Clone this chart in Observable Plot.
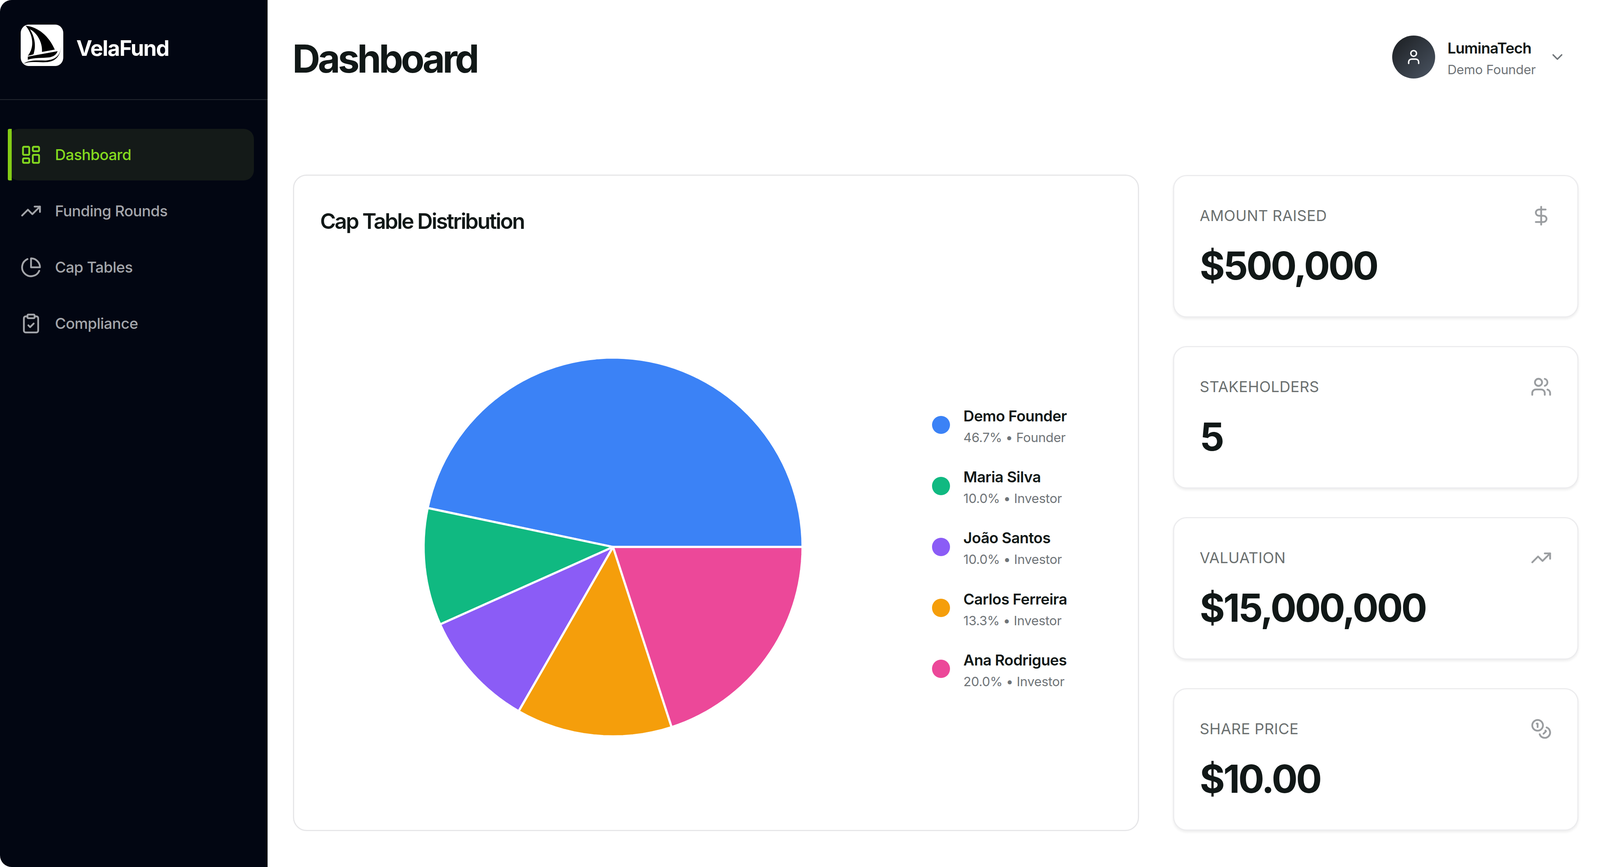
<!DOCTYPE html>
<html>
<head>
<meta charset="utf-8">
<script src="https://cdn.jsdelivr.net/npm/d3@7"></script>
<script src="https://cdn.jsdelivr.net/npm/@observablehq/plot@0.6"></script>
<style>
  html, body { margin: 0; background: #fff; }
  body { position: relative; height: 2220px; overflow: hidden; font-family: Inter, sans-serif; color: #111817; }
  .abs { position: absolute; box-sizing: border-box; }
  .t { position: absolute; white-space: nowrap; line-height: 1; transform: translateY(-50%); }
  .card { background: #fff; border: 3px solid #ececee; border-radius: 35px; }
  .main { border-color: #e6e6e8; }
  .stat { box-shadow: 0 4px 6px rgba(0,0,0,.07); }
  .brand { font-size: 57.5rem; font-weight: 700; color: #fff; letter-spacing: calc((-.002 + var(--d)) * 1em); }
  .h1 { font-size: 103.5rem; font-weight: 700; letter-spacing: calc((-.033 + var(--d)) * 1em); }
  .h2 { font-size: 57.5rem; font-weight: 600; letter-spacing: calc((-.026 + var(--d)) * 1em); }
  .nav { font-size: 40.3rem; font-weight: 500; letter-spacing: calc((.012 + var(--d)) * 1em); }
  .uname { font-size: 40.3rem; font-weight: 600; letter-spacing: calc(.004em + var(--d) * 1em); }
  .usub { font-size: 34.5rem; color: #6f7478; letter-spacing: calc((.02 + var(--d)) * 1em); }
  .slabel { font-size: 40.3rem; color: #6b7070; letter-spacing: calc((.037 + var(--d)) * 1em); }
  .svalue { font-size: 103.5rem; font-weight: 700; letter-spacing: calc((-.015 + var(--d)) * 1em); }
  .lname { font-size: 40.3rem; font-weight: 600; letter-spacing: calc((.012 + var(--d)) * 1em); }
  .lsub { font-size: 34.5rem; color: #6f7478; letter-spacing: calc((.019 + var(--d)) * 1em); }
  .ico { position: absolute; fill: none; stroke-linecap: round; stroke-linejoin: round; stroke-width: 2; }
</style>
</head>
<body>
<script>
// nav
const navLabels = ["Dashboard", "Funding Rounds", "Cap Tables", "Compliance"]
const navIcons = ["dashboard", "trend", "pie", "clipboard"]
// pie
const holders = ["Demo Founder", "Maria Silva", "João Santos", "Carlos Ferreira", "Ana Rodrigues"]
const shares = [46.7, 10.0, 10.0, 13.3, 20.0]
const roles = ["Founder", "Investor", "Investor", "Investor", "Investor"]
const colors = ["#3b82f6", "#10b981", "#8b5cf6", "#f59e0b", "#ec4899"]
// cards
const statLabels = ["AMOUNT RAISED", "STAKEHOLDERS", "VALUATION", "SHARE PRICE"]
const statValues = ["$500,000", "5", "$15,000,000", "$10.00"]
const statIcons = ["dollar", "users", "trend", "coins"]

const icons = {
  dashboard: '<rect x="3" y="3" width="7" height="9" rx="1"/><rect x="14" y="3" width="7" height="5" rx="1"/><rect x="14" y="12" width="7" height="9" rx="1"/><rect x="3" y="16" width="7" height="5" rx="1"/>',
  trend: '<polyline points="22 7 13.5 15.5 8.5 10.5 2 17"/><polyline points="16 7 22 7 22 13"/>',
  pie: '<path d="M21.21 15.89A10 10 0 1 1 8 2.83"/><path d="M22 12A10 10 0 0 0 12 2v10z"/>',
  clipboard: '<rect x="8" y="2" width="8" height="4" rx="1"/><path d="M16 4h2a2 2 0 0 1 2 2v14a2 2 0 0 1-2 2H6a2 2 0 0 1-2-2V6a2 2 0 0 1 2-2h2"/><path d="m9 14 2 2 4-4"/>',
  dollar: '<line x1="12" y1="2" x2="12" y2="22"/><path d="M17 5H9.5a3.5 3.5 0 0 0 0 7h5a3.5 3.5 0 0 1 0 7H6"/>',
  users: '<path d="M16 21v-2a4 4 0 0 0-4-4H6a4 4 0 0 0-4 4v2"/><circle cx="9" cy="7" r="4"/><path d="M22 21v-2a4 4 0 0 0-3-3.87"/><path d="M16 3.13a4 4 0 0 1 0 7.75"/>',
  coins: '<circle cx="8" cy="8" r="6"/><path d="M18.09 10.37A6 6 0 1 1 10.34 18"/><path d="M7 6h1v4"/><path d="m16.71 13.88.7.71-2.82 2.82"/>',
  user: '<path d="M19 21v-2a4 4 0 0 0-4-4H9a4 4 0 0 0-4 4v2"/><circle cx="12" cy="7" r="4"/>',
  chevron: '<path d="m6 9 6 6 6-6"/>'
}

// the browser window comes out narrower than 4509, so the layout follows it:
// x positions scale with the window, heights stay, type shrinks only halfway
const k = Math.min(1, window.innerWidth / 4509)
const fs = (1 + k) / 2
const X = x => x * k
document.documentElement.style.fontSize = fs + "px"
document.documentElement.style.setProperty("--d", -(1 - k / fs) * 0.58)

const page = d3.select("body")

function box(x0, y0, x1, y1, cls, style) {
  const el = page.append("div").attr("class", "abs " + (cls || ""))
    .style("left", X(x0) + "px").style("top", y0 + "px")
    .style("width", X(x1 - x0) + "px").style("height", (y1 - y0) + "px")
  Object.entries(style || {}).forEach(([a, b]) => el.style(a, b))
  return el
}
function icon(name, cx, cy, size, color) {
  const s = size * fs
  page.append("svg").attr("class", "ico")
    .attr("viewBox", "0 0 24 24").attr("width", s).attr("height", s)
    .style("left", (X(cx) - s / 2) + "px").style("top", (cy - s / 2) + "px")
    .attr("stroke", color).html(icons[name])
}
function label(cls, x, y, str) {
  return page.append("div").attr("class", "t " + cls)
    .style("left", X(x) + "px").style("top", y + "px").text(str)
}

// sidebar
box(0, 0, 754, 2220, "", { background: "#020612", "border-radius": "30px 0 0 30px" })
box(0, 254, 754, 256, "", { background: "#23272f" })
box(24, 330, 715, 462, "", { background: "#141a18", "border-radius": "26px" })
box(22, 330, 33, 462, "", { background: "#84cc16", "border-radius": "4px 0 0 4px" })

const logo = page.append("svg").attr("class", "abs")
  .attr("width", X(120)).attr("height", 106).attr("viewBox", "0 0 120 106")
  .attr("preserveAspectRatio", "none")
  .style("left", X(58) + "px").style("top", "63px")
logo.html(`<rect width="120" height="106" rx="22" fill="#fff"/>
  <path d="M14 3C50 6 80 30 96 64L60 70C62 45 45 20 26 12C40 32 44 55 36 76C30 78 28 78 20 80C42 55 32 22 14 3Z" fill="#000"/>
  <path d="M20 82L104 68C100 78 92 82 80 84C60 86 40 84 20 90Z" fill="#000"/>
  <path d="M8 100C30 92 50 98 75 96C95 94 112 84 114 54C112 80 98 90 70 92C45 92 25 90 8 100Z" fill="#000"/>`)
label("brand", 215, 123, "VelaFund")

navLabels.forEach((d, i) => {
  const col = i == 0 ? "#84d91f" : "#a3a5aa"
  icon(navIcons[i], 87, 396 + i * 144, 57.5, col)
  label("nav", 155, 396 + i * 144, d).style("color", col)
})

// header
label("h1", 824, 150, "Dashboard")
const avatar = 116 * fs
page.append("div").attr("class", "abs")
  .style("left", (X(3984) - avatar / 2) + "px").style("top", (146 - avatar / 2) + "px")
  .style("width", avatar + "px").style("height", avatar + "px")
  .style("border-radius", "50%").style("background", "linear-gradient(135deg,#1a1d20,#4b5563)")
icon("user", 3984, 146, 46, "#fff")
label("uname", 4079, 123, "LuminaTech")
label("usub", 4079, 178, "Demo Founder")
icon("chevron", 4389, 146, 46, "#6f7478")

// main card
box(826, 447, 3210, 2128, "card main")
label("h2", 902, 566, "Cap Table Distribution")

// stat cards
const statTops = [448, 886, 1324, 1762]
statLabels.forEach((d, i) => {
  const top = statTops[i]
  box(3306, top, 4448, top + 365, "card stat")
  label("slabel", 3381, top + 104, d)
  label("svalue", 3381, top + 232, statValues[i])
  icon(statIcons[i], 4343, top + 104, 57.5, "#9a9da0")
})

// legend
holders.forEach((d, i) => {
  const y = 1088 + i * 156.2
  const size = 49 * fs
  page.append("div").attr("class", "abs")
    .style("left", (X(2652) - size / 2) + "px").style("top", (y - size / 2) + "px")
    .style("width", size + "px").style("height", size + "px")
    .style("border-radius", "50%").style("background", colors[i])
  label("lname", 2715, y - 23, d)
  label("lsub", 2715, y + 32, shares[i].toFixed(1) + "% • " + roles[i])
})

// the pie: wedges around the pole of an azimuthal projection, one degree of
// longitude per degree of slice, so Plot's projection does the drawing
const angle = d3.scaleLinear().domain([0, d3.sum(shares)]).range([90, 450])
let running = 0
const slices = shares.map((s, i) => {
  const a0 = angle(running)
  const a1 = angle(running + s)
  running += s
  return {
    type: "Feature",
    properties: { name: holders[i], color: colors[i] },
    geometry: { type: "Polygon", coordinates: [[[0, 90], [a1, 0], [a0, 0], [0, 90]]] }
  }
})

const radius = 509 * fs
const side = Math.round(2 * radius + 20)
const chart = Plot.plot({
  width: side,
  height: side,
  projection: {
    type: "azimuthal-equidistant",
    rotate: [0, -90],
    domain: { type: "FeatureCollection", features: slices },
    inset: 10
  },
  marks: [
    Plot.geo(slices, {
      fill: d => d.properties.color,
      stroke: "#fff",
      strokeWidth: 5.5,
      strokeLinejoin: "round"
    })
  ]
})
page.append("div").attr("class", "abs")
  .style("left", (X(1728) - side / 2) + "px").style("top", (1400 - side / 2) + "px")
  .append(() => chart)
</script>
</body>
</html>
